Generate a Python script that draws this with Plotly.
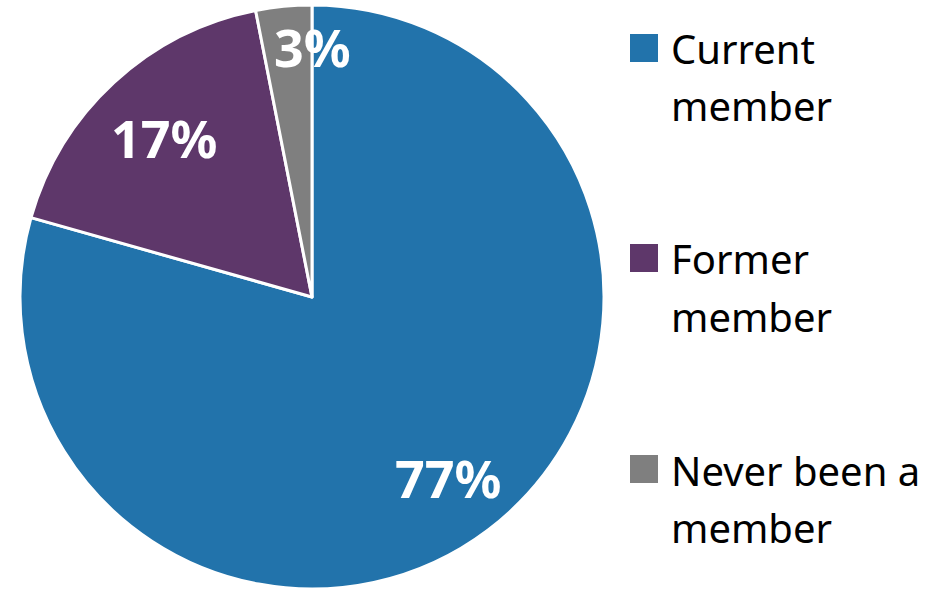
import math
import plotly.graph_objects as go

# ---- data ----
categories = ["Current member", "Former member", "Never been a member"]
legend_lines = [["Current", "member"], ["Former", "member"], ["Never been a", "member"]]
values = [77, 17, 3]
colors = ["#2273AB", "#5E376A", "#7F7F7F"]

# ---- layout constants ----
W, H = 935, 591
CX, CY, R = 312, 297, 292          # pie centre / radius in pixels
label_radius_frac = [0.773, 0.75, 0.86]
label_angle_shift = [0, 0, 5.6]     # degrees, clockwise

fig = go.Figure()
fig.add_trace(go.Pie(
    labels=categories,
    values=values,
    sort=False,
    direction="clockwise",
    rotation=0,
    hole=0,
    marker=dict(colors=colors, line=dict(color="white", width=3)),
    textinfo="none",
    hoverinfo="label+value",
    showlegend=False,
    domain=dict(x=[(CX - R) / W, (CX + R) / W], y=[1 - (CY + R) / H, 1 - (CY - R) / H]),
))

annotations = []
# percentage labels computed from the data
total = sum(values)
cum = 0
for v, frac, shift in zip(values, label_radius_frac, label_angle_shift):
    mid = (cum + v / 2) / total * 360 + shift
    cum += v
    th = math.radians(mid)
    px = CX + frac * R * math.sin(th)
    py = CY - frac * R * math.cos(th)
    annotations.append(dict(
        x=px / W, y=1 - (py + 1) / H, xref="paper", yref="paper",
        text=f"<b>{v}%</b>", showarrow=False, xanchor="center", yanchor="middle",
        font=dict(family="Noto Sans", size=52, color="white"),
    ))

# manual legend
shapes = []
row_y = [48, 258, 469]
line_gap = 57
for i, (lines, col) in enumerate(zip(legend_lines, colors)):
    y0 = row_y[i]
    shapes.append(dict(type="rect", xref="paper", yref="paper",
                       x0=630 / W, x1=658 / W, y0=1 - (y0 - 14) / H, y1=1 - (y0 + 14) / H,
                       fillcolor=col, line=dict(width=0)))
    for j, t in enumerate(lines):
        annotations.append(dict(
            x=669 / W, y=1 - (y0 + j * line_gap + 1) / H, xref="paper", yref="paper",
            text=t, showarrow=False, xanchor="left", yanchor="middle",
            font=dict(family="Noto Sans", size=40, color="black"),
        ))

fig.update_layout(
    width=W, height=H,
    margin=dict(l=0, r=0, t=0, b=0),
    paper_bgcolor="white", plot_bgcolor="white",
    annotations=annotations, shapes=shapes,
)
fig.write_html(
    "out.html",
    config={"displayModeBar": False},
    post_script="document.body.style.margin='0';document.body.style.overflow='hidden';",
)
